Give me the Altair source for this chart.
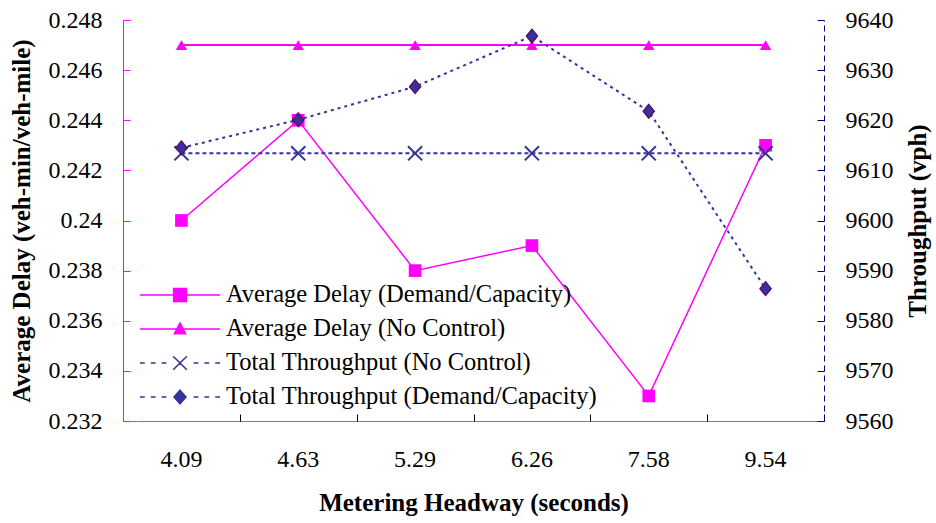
import altair as alt
import pandas as pd

# Metering headway categories (seconds)
headways = ["4.09", "4.63", "5.29", "6.26", "7.58", "9.54"]

# Average delay (veh-min/veh-mile)
delay_dc = [0.240, 0.244, 0.238, 0.239, 0.233, 0.243]
delay_nc = [0.247, 0.247, 0.247, 0.247, 0.247, 0.247]

# Total throughput (vph)
thru_nc = [9613.4, 9613.4, 9613.4, 9613.4, 9613.4, 9613.4]
thru_dc = [9614.5, 9620.1, 9626.7, 9636.8, 9621.8, 9586.4]

series_names = [
    "Average Delay (Demand/Capacity)",
    "Average Delay (No Control)",
    "Total Throughput (No Control)",
    "Total Throughput (Demand/Capacity)",
]

delay_ticks = [0.232, 0.234, 0.236, 0.238, 0.240, 0.242, 0.244, 0.246, 0.248]
thru_ticks = [9560, 9570, 9580, 9590, 9600, 9610, 9620, 9630, 9640]

MAGENTA = "#FF00FF"
NAVY = "#333399"
NAVY_AXIS = "#000080"
PURPLE = "#660066"
FONT = "Liberation Serif"
W, H = 701, 401
TICK = 7

rows = []
for s, vals in zip(series_names, [delay_dc, delay_nc, thru_nc, thru_dc]):
    for h, v in zip(headways, vals):
        rows.append({"headway": h, "series": s, "value": v})
df = pd.DataFrame(rows)
legend_df = pd.DataFrame({"series": series_names})

x_scale = alt.Scale(type="band", paddingInner=0, paddingOuter=0)
left_scale = alt.Scale(domain=[0.232, 0.248], nice=False, zero=False)
right_scale = alt.Scale(domain=[9560, 9640], nice=False, zero=False)

# Main axes carry the labels and domain lines; the tick-only axes are shifted
# inwards by the tick length so their ticks point into the plot.
x_main = alt.X("headway:O", sort=headways, scale=x_scale, axis=alt.Axis(
    title="Metering Headway (seconds)", labelAngle=0, ticks=False, orient="bottom",
    domainColor="#808080", labelPadding=26, titlePadding=19))
x_ticks = alt.X("headway:O", sort=headways, scale=x_scale, axis=alt.Axis(
    title=None, labels=False, domain=False, tickBand="extent", orient="bottom",
    tickSize=TICK, tickColor="#000000", offset=-TICK))
x_none = alt.X("headway:O", sort=headways, scale=x_scale, axis=None)

yl_main = alt.Y("value:Q", scale=left_scale, axis=alt.Axis(
    title="Average Delay (veh-min/veh-mile)", values=delay_ticks, format=".3~f",
    orient="left", domainColor=MAGENTA, ticks=False, labelPadding=21, titlePadding=14))
yl_ticks = alt.Y("value:Q", scale=left_scale, axis=alt.Axis(
    title=None, values=delay_ticks, orient="left", labels=False, domain=False,
    tickColor=MAGENTA, tickSize=TICK, offset=-TICK))
yl_none = alt.Y("value:Q", scale=left_scale, axis=None)

yr_main = alt.Y("value:Q", scale=right_scale, axis=alt.Axis(
    title="Throughput (vph)", values=thru_ticks, format="d", orient="right",
    domainColor=NAVY_AXIS, domainDash=[6, 4], ticks=False, labelPadding=21,
    titlePadding=37, titleAngle=270))
yr_ticks = alt.Y("value:Q", scale=right_scale, axis=alt.Axis(
    title=None, values=thru_ticks, orient="right", labels=False, domain=False,
    tickColor=NAVY_AXIS, tickSize=TICK, offset=-TICK))
yr_none = alt.Y("value:Q", scale=right_scale, axis=None)

base = alt.Chart(df)


def only(name):
    return base.transform_filter(alt.datum.series == name)


# Delay series on the left axis
delay_dc_line = only(series_names[0]).mark_line(color=MAGENTA, strokeWidth=1.5).encode(
    x=x_main, y=yl_main)
delay_nc_line = only(series_names[1]).mark_line(color=MAGENTA, strokeWidth=2).encode(
    x=x_ticks, y=yl_ticks)
delay_dc_pts = only(series_names[0]).mark_point(
    shape="square", filled=True, color=MAGENTA, size=160, opacity=1
).encode(x=x_none, y=yl_none)
delay_nc_pts = only(series_names[1]).mark_point(
    shape="triangle-up", filled=True, color=MAGENTA, size=130, opacity=1
).encode(x=x_none, y=yl_none)

# Legend symbols: a line segment with the series marker in its middle
dash_path = (
    "M-1,0H-0.88M-0.73,0H-0.61M-0.46,0H-0.34"
    "M0.34,0H0.46M0.61,0H0.73M0.88,0H1"
)
legend_shapes = [
    "M-1,0H1M-0.16,-0.16H0.16V0.16H-0.16Z",
    "M-1,0H1M0,-0.15L0.14,0.12L-0.14,0.12Z",
    dash_path + "M-0.17,-0.17L0.17,0.17M-0.17,0.17L0.17,-0.17",
    dash_path + "M0,-0.17L0.15,0L0,0.17L-0.15,0Z",
]
leg = alt.Legend(
    title=None,
    orient="none",
    legendX=16,
    legendY=259,
    padding=0,
    symbolSize=6400,
    symbolStrokeWidth=1.5,
    symbolOpacity=1,
    clipHeight=32,
    rowPadding=2,
    labelFont=FONT,
    labelFontSize=24.5,
    labelColor="#000000",
    labelOffset=5,
    labelLimit=500,
)
series_colors = [MAGENTA, MAGENTA, NAVY, NAVY]
legend_layer = alt.Chart(legend_df).mark_point(filled=True, opacity=0).encode(
    x=alt.value(0),
    y=alt.value(0),
    shape=alt.Shape("series:N", sort=series_names,
                    scale=alt.Scale(domain=series_names, range=legend_shapes), legend=leg),
    fill=alt.Fill("series:N", sort=series_names,
                  scale=alt.Scale(domain=series_names, range=series_colors), legend=leg),
    stroke=alt.Stroke("series:N", sort=series_names,
                      scale=alt.Scale(domain=series_names, range=series_colors), legend=leg),
)

# Throughput series on the right axis
thru_nc_line = only(series_names[2]).mark_line(
    color=NAVY, strokeWidth=2, strokeDash=[4, 3]).encode(x=x_none, y=yr_main)
thru_dc_line = only(series_names[3]).mark_line(
    color=NAVY, strokeWidth=2, strokeDash=[3, 4]).encode(x=x_none, y=yr_ticks)
thru_nc_pts = only(series_names[2]).mark_point(
    shape="M-1,-1L1,1M-1,1L1,-1", filled=False, color=NAVY, strokeWidth=2, size=200, opacity=1
).encode(x=x_none, y=yr_none)
thru_dc_pts = only(series_names[3]).mark_point(
    shape="M0,-1.1L0.9,0L0,1.1L-0.9,0Z", filled=True, fill=NAVY, stroke=PURPLE,
    strokeWidth=1.2, size=160, opacity=1
).encode(x=x_none, y=yr_none)

left = alt.layer(
    delay_dc_line, delay_nc_line, delay_dc_pts, delay_nc_pts, legend_layer
).resolve_axis(x="independent", y="independent")
right = alt.layer(
    thru_nc_line, thru_dc_line, thru_nc_pts, thru_dc_pts
).resolve_axis(x="independent", y="independent")

chart = (
    alt.layer(left, right)
    .resolve_scale(y="independent")
    .resolve_axis(x="independent", y="independent")
    .properties(
        width=W,
        height=H,
        autosize=alt.AutoSizeParams(type="none"),
        padding={"left": 123, "top": 20, "right": 936 - 123 - W, "bottom": 523 - 20 - H},
        background="#FFFFFF",
    )
    .configure_view(stroke=None)
    .configure_axis(
        labelFont=FONT,
        labelFontSize=24,
        labelColor="#000000",
        titleFont=FONT,
        titleFontSize=25,
        titleFontWeight="bold",
        titleColor="#000000",
        grid=False,
    )
)

chart.save("out.html", embed_options={"renderer": "svg", "actions": False})
